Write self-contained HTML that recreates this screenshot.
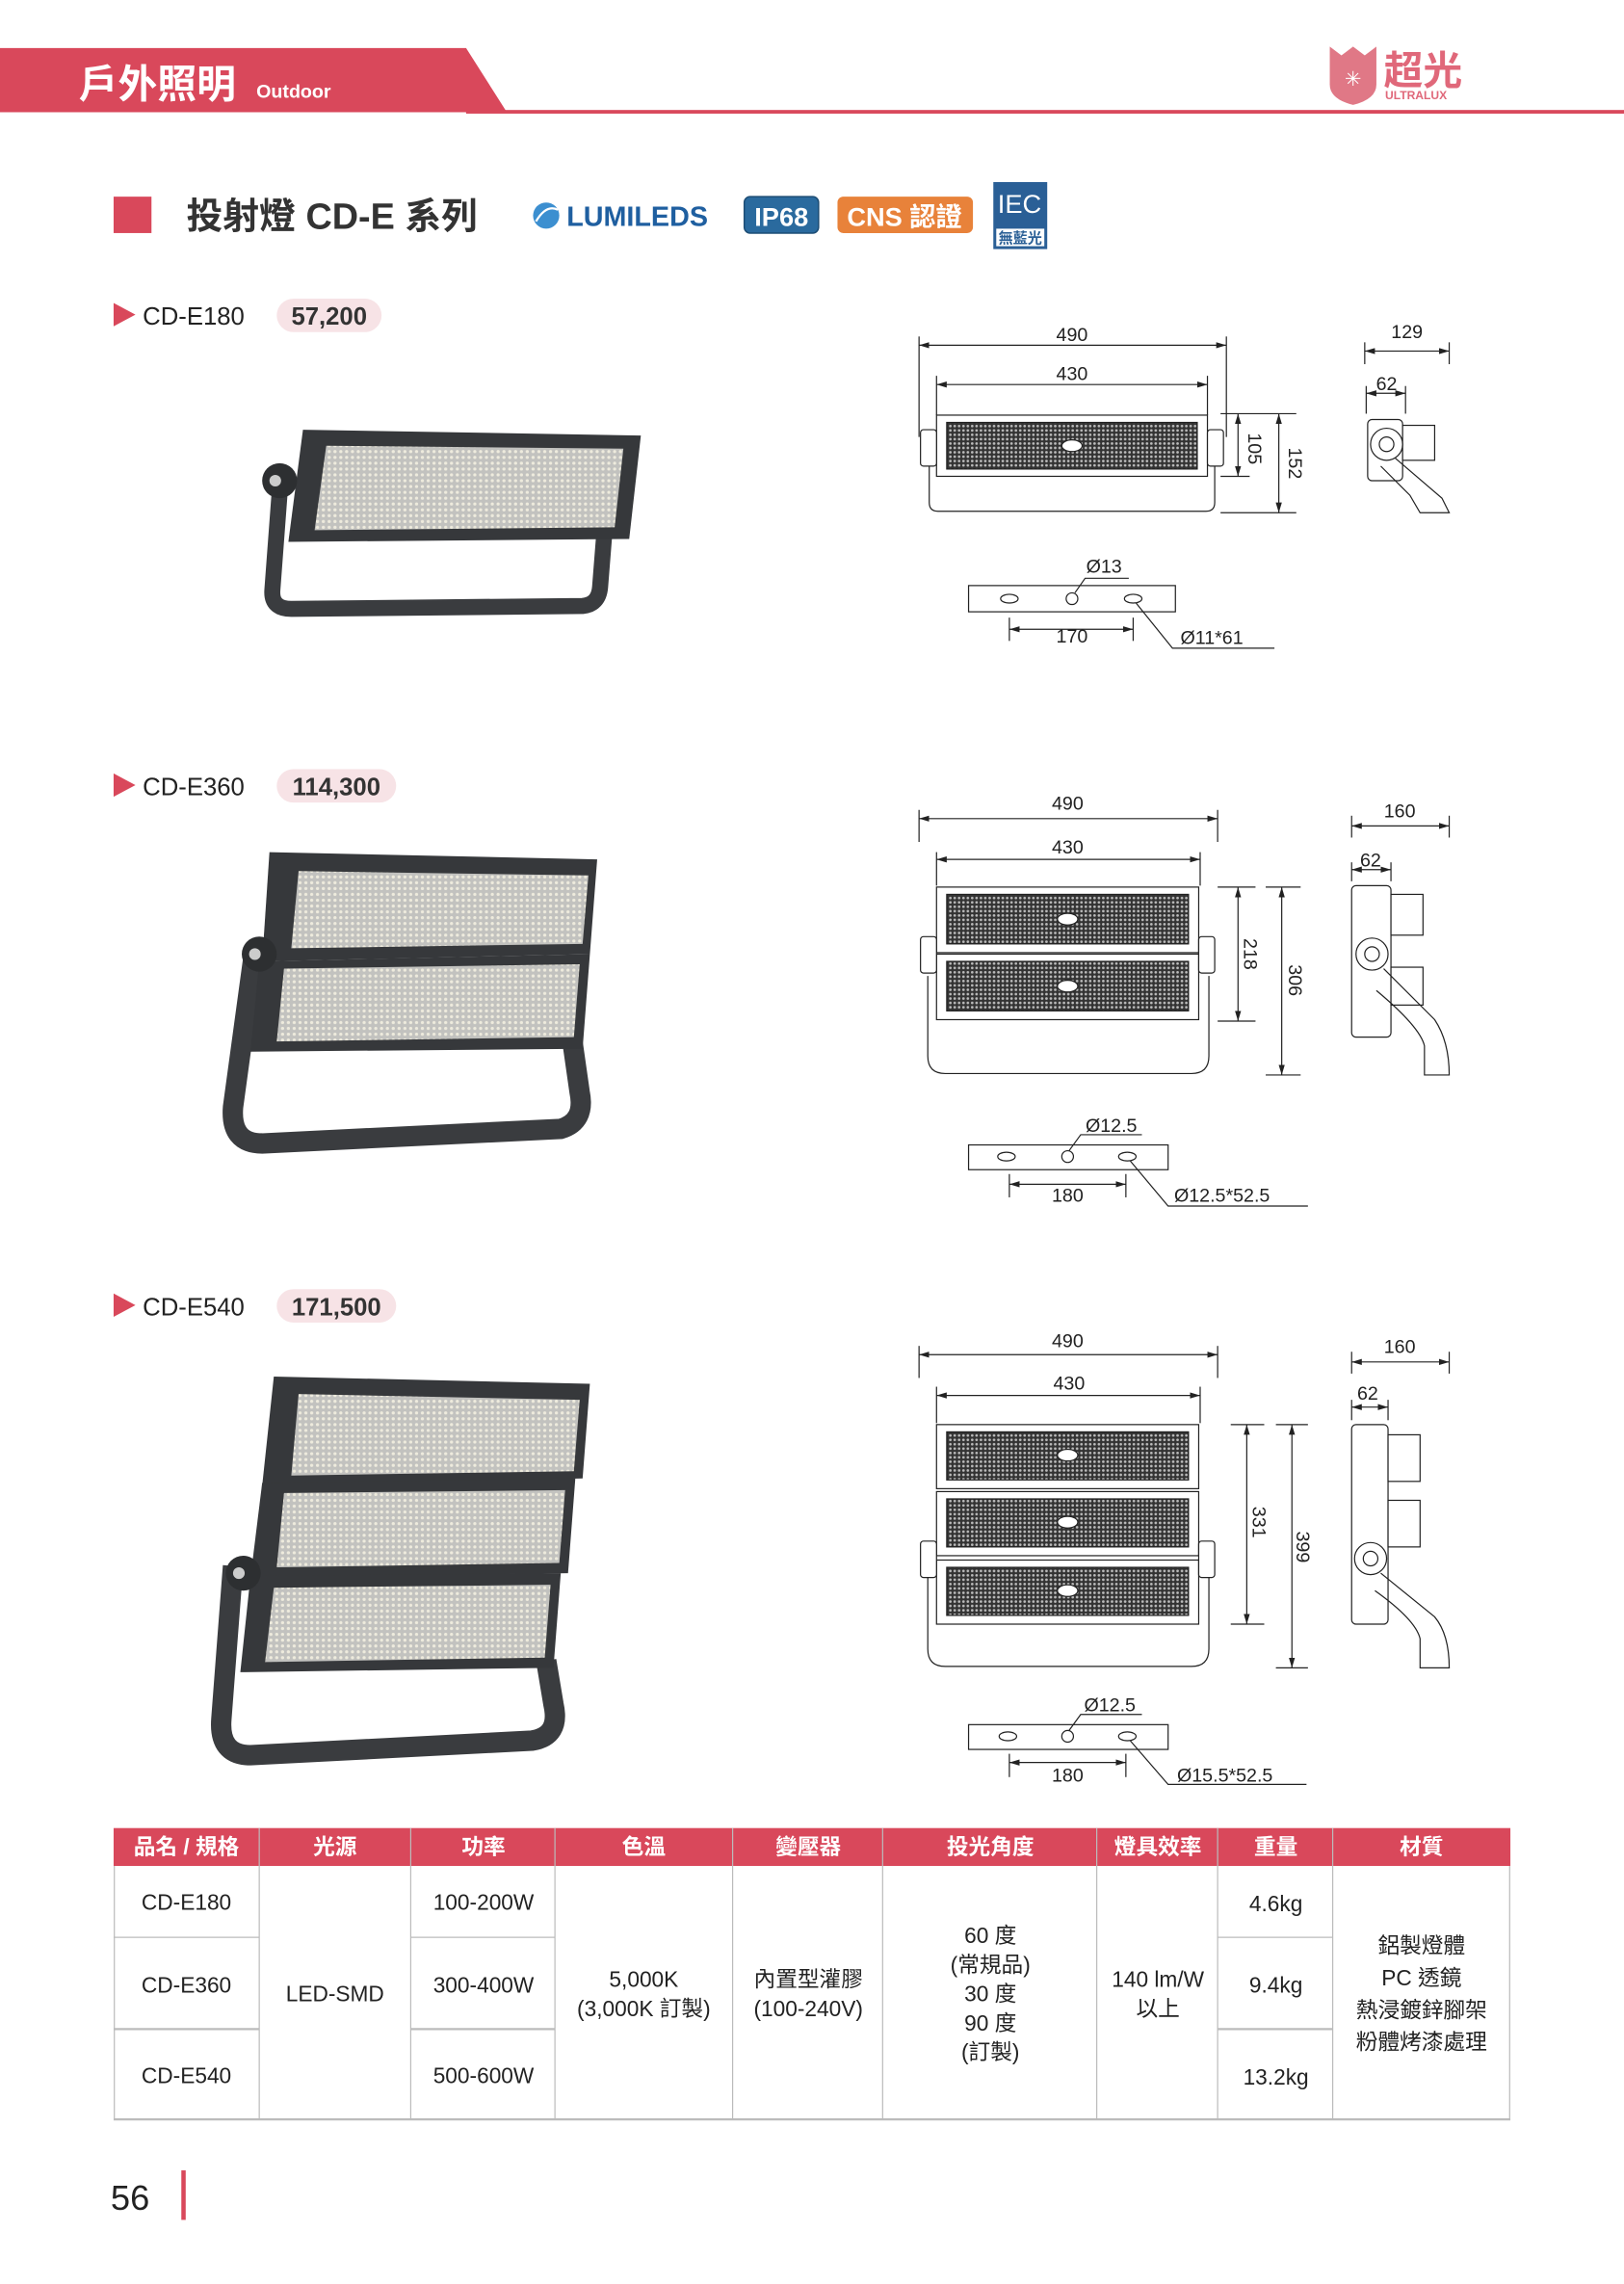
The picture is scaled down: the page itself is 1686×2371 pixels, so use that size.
<!DOCTYPE html>
<html><head><meta charset="utf-8"><style>
html,body{margin:0;padding:0;background:#fff;}
svg{display:block;}
text{font-family:"Liberation Sans","Noto Sans CJK TC",sans-serif;}
</style></head><body>
<svg width="1686" height="2371" viewBox="0 0 1115 1568" xmlns="http://www.w3.org/2000/svg">
<defs>
<marker id="ar" viewBox="0 0 10 6" refX="10" refY="3" markerWidth="7" markerHeight="4.2" markerUnits="userSpaceOnUse" orient="auto-start-reverse"><path d="M0,0 L10,3 L0,6 z" fill="#222"/></marker>
<pattern id="led" width="3" height="3" patternUnits="userSpaceOnUse"><rect width="3" height="3" fill="#333"/><circle cx="1.5" cy="1.5" r="0.9" fill="#bbb"/></pattern>
<pattern id="ph" width="4" height="4" patternUnits="userSpaceOnUse"><rect width="4" height="4" fill="#c2c2bf"/><circle cx="2" cy="2" r="1.1" fill="#eeebdd"/></pattern>
</defs>

<!-- header -->
<polygon points="0,33 320,33 348,77 0,77" fill="#d9485b"/>
<rect x="320" y="75.5" width="795" height="2.5" fill="#d9485b"/>
<text x="54" y="67" font-size="27" fill="#fff" font-weight="bold">戶外照明</text>
<text x="176" y="67" font-size="13" font-weight="bold" fill="#fff">Outdoor</text>
<path d="M913,32 L921,38 L929,32 L937,38 L945,32 L945,58 Q945,68 929,72 Q913,68 913,58 Z" fill="#e07886"/>
<text x="929" y="59" font-size="14" fill="#fff" text-anchor="middle">✳</text>
<text x="950" y="58" font-size="27" font-weight="bold" fill="#e0687a">超光</text>
<text x="951" y="68" font-size="8" font-weight="bold" fill="#e0687a">ULTRALUX</text>

<!-- title -->
<rect x="78" y="135" width="26" height="25" fill="#d9485b"/>
<text x="128" y="157" font-size="25" font-weight="bold" fill="#333">投射燈 CD-E 系列</text>
<circle cx="375" cy="148" r="9" fill="#3c8fd0"/>
<path d="M368,152 Q375,140 383,144" stroke="#fff" stroke-width="1.5" fill="none"/>
<text x="389" y="155" font-size="19" font-weight="bold" fill="#1f5fa0">LUMILEDS</text>
<rect x="511" y="135" width="51" height="25" rx="4" fill="#2a6a9e" stroke="#1d4d75"/>
<text x="536.5" y="155" font-size="18" font-weight="bold" fill="#fff" text-anchor="middle">IP68</text>
<rect x="575" y="135" width="93" height="25" rx="4" fill="#e8823a"/>
<text x="621" y="155" font-size="18" font-weight="bold" fill="#fff" text-anchor="middle">CNS 認證</text>
<rect x="682" y="125" width="37" height="46" fill="#2a5f96"/>
<text x="700" y="146" font-size="18" fill="#fff" text-anchor="middle" font-family="Liberation Serif">IEC</text>
<rect x="684" y="157" width="33" height="12" fill="#fff"/>
<text x="700.5" y="167" font-size="10" font-weight="bold" fill="#2a5f96" text-anchor="middle">無藍光</text>

<!-- labels -->
<g font-size="17" fill="#222">
<path d="M78,208 L93,216 L78,224 Z" fill="#d9485b"/><text x="98" y="223">CD-E180</text>
<rect x="190" y="205" width="72" height="23" rx="11.5" fill="#f7e3e6"/><text x="226" y="223" text-anchor="middle" font-weight="bold" fill="#333">57,200</text>
<path d="M78,531 L93,539 L78,547 Z" fill="#d9485b"/><text x="98" y="546">CD-E360</text>
<rect x="190" y="528" width="82" height="23" rx="11.5" fill="#f7e3e6"/><text x="231" y="546" text-anchor="middle" font-weight="bold" fill="#333">114,300</text>
<path d="M78,888 L93,896 L78,904 Z" fill="#d9485b"/><text x="98" y="903">CD-E540</text>
<rect x="190" y="885" width="82" height="23" rx="11.5" fill="#f7e3e6"/><text x="231" y="903" text-anchor="middle" font-weight="bold" fill="#333">171,500</text>
</g>

<!-- lamp photos -->
<g>
<!-- E180 -->
<path d="M192,338 L187,405 Q186,418 200,418 L400,416 Q411,415 412,403 L415,365" stroke="#3a3c3f" stroke-width="11" fill="none"/>
<polygon points="208,295 440,299 432,370 198,372" fill="#36383b"/>
<polygon points="224,306 428,308 422,362 216,364" fill="url(#ph)"/>
<circle cx="192" cy="330" r="12" fill="#2d2f31"/><circle cx="189" cy="330" r="4" fill="#ccc"/>
<!-- E360 -->
<path d="M175,650 L160,760 Q158,785 180,785 L385,775 Q402,770 398,750 L393,715" stroke="#3a3c3f" stroke-width="14" fill="none"/>
<polygon points="185,585 410,590 405,655 180,660" fill="#36383b"/>
<polygon points="205,598 404,601 400,648 200,651" fill="url(#ph)"/>
<polygon points="178,660 405,655 400,720 172,722" fill="#36383b"/>
<polygon points="195,665 398,662 394,712 190,715" fill="url(#ph)"/>
<circle cx="178" cy="655" r="12" fill="#2d2f31"/><circle cx="175" cy="655" r="4" fill="#ccc"/>
<!-- E540 -->
<path d="M160,1075 L152,1180 Q150,1205 172,1205 L365,1195 Q385,1192 380,1170 L375,1140" stroke="#3a3c3f" stroke-width="14" fill="none"/>
<polygon points="188,945 405,950 400,1015 180,1020" fill="#36383b"/>
<polygon points="205,957 398,961 394,1010 200,1013" fill="url(#ph)"/>
<polygon points="180,1018 395,1015 390,1080 172,1083" fill="#36383b"/>
<polygon points="195,1025 388,1023 384,1073 190,1076" fill="url(#ph)"/>
<polygon points="172,1082 385,1080 380,1145 165,1148" fill="#36383b"/>
<polygon points="188,1090 378,1088 374,1138 182,1141" fill="url(#ph)"/>
<circle cx="167" cy="1080" r="12" fill="#2d2f31"/><circle cx="164" cy="1080" r="4" fill="#ccc"/>
</g>

<!-- drawings -->
<g stroke="#222" stroke-width="0.8" fill="none">
<!-- E180 dims -->
<line x1="631" y1="231" x2="631" y2="300"/><line x1="842" y1="231" x2="842" y2="300"/>
<line x1="631" y1="237" x2="842" y2="237" marker-start="url(#ar)" marker-end="url(#ar)"/>
<line x1="643" y1="258" x2="643" y2="285"/><line x1="829" y1="258" x2="829" y2="285"/>
<line x1="643" y1="264" x2="829" y2="264" marker-start="url(#ar)" marker-end="url(#ar)"/>
<line x1="838" y1="284" x2="890" y2="284"/><line x1="838" y1="327" x2="858" y2="327"/><line x1="838" y1="352" x2="890" y2="352"/>
<line x1="850" y1="284" x2="850" y2="327" marker-start="url(#ar)" marker-end="url(#ar)"/>
<line x1="878" y1="284" x2="878" y2="352" marker-start="url(#ar)" marker-end="url(#ar)"/>
<path d="M638,300 V345 Q638,351 644,351 H828 Q834,351 834,345 V300"/>
<rect x="643" y="285" width="186" height="42" fill="#fff"/>
<rect x="650" y="290" width="172" height="32" fill="url(#led)"/>
<ellipse cx="736" cy="306" rx="7" ry="4" fill="#fff"/>
<rect x="632" y="295" width="11" height="25" rx="2" fill="#fff"/><rect x="829" y="295" width="11" height="25" rx="2" fill="#fff"/>
<line x1="937" y1="235" x2="937" y2="250"/><line x1="995" y1="235" x2="995" y2="250"/>
<line x1="937" y1="241" x2="995" y2="241" marker-start="url(#ar)" marker-end="url(#ar)"/>
<line x1="938" y1="265" x2="938" y2="284"/><line x1="965" y1="265" x2="965" y2="284"/>
<line x1="938" y1="270" x2="965" y2="270" marker-start="url(#ar)" marker-end="url(#ar)"/>
<rect x="939" y="288" width="24" height="42" rx="3" fill="#fff"/>
<rect x="963" y="292" width="22" height="24" fill="#fff"/>
<path d="M955,312 L990,342 L995,352 L975,352 L968,340 L948,320"/>
<circle cx="952" cy="305" r="11" fill="#fff"/><circle cx="952" cy="305" r="5"/>
<rect x="665" y="402" width="142" height="18" fill="#fff"/>
<ellipse cx="693" cy="411" rx="6" ry="3"/><circle cx="736" cy="411" r="4"/><ellipse cx="778" cy="411" rx="6" ry="3"/>
<path d="M738,407 L745,397 H775"/><path d="M780,414 L805,445 H875"/>
<line x1="693" y1="424" x2="693" y2="440"/><line x1="778" y1="424" x2="778" y2="440"/>
<line x1="693" y1="432" x2="778" y2="432" marker-start="url(#ar)" marker-end="url(#ar)"/>

<!-- E360 dims -->
<line x1="631" y1="556" x2="631" y2="578"/><line x1="836" y1="556" x2="836" y2="578"/>
<line x1="631" y1="562" x2="836" y2="562" marker-start="url(#ar)" marker-end="url(#ar)"/>
<line x1="643" y1="585" x2="643" y2="608"/><line x1="824" y1="585" x2="824" y2="608"/>
<line x1="643" y1="590" x2="824" y2="590" marker-start="url(#ar)" marker-end="url(#ar)"/>
<line x1="836" y1="609" x2="862" y2="609"/><line x1="836" y1="701" x2="862" y2="701"/>
<line x1="869" y1="609" x2="893" y2="609"/><line x1="869" y1="738" x2="893" y2="738"/>
<line x1="850" y1="609" x2="850" y2="701" marker-start="url(#ar)" marker-end="url(#ar)"/>
<line x1="880" y1="609" x2="880" y2="738" marker-start="url(#ar)" marker-end="url(#ar)"/>
<path d="M637,670 V725 Q637,737 649,737 H818 Q830,737 830,725 V670"/>
<rect x="643" y="609" width="180" height="45" fill="#fff"/><rect x="650" y="614" width="166" height="34" fill="url(#led)"/>
<rect x="643" y="655" width="180" height="45" fill="#fff"/><rect x="650" y="660" width="166" height="34" fill="url(#led)"/>
<ellipse cx="733" cy="631" rx="7" ry="4" fill="#fff"/><ellipse cx="733" cy="677" rx="7" ry="4" fill="#fff"/>
<rect x="632" y="643" width="11" height="25" rx="2" fill="#fff"/><rect x="823" y="643" width="11" height="25" rx="2" fill="#fff"/>
<line x1="928" y1="560" x2="928" y2="575"/><line x1="995" y1="560" x2="995" y2="575"/>
<line x1="928" y1="567" x2="995" y2="567" marker-start="url(#ar)" marker-end="url(#ar)"/>
<line x1="928" y1="592" x2="928" y2="605"/><line x1="955" y1="592" x2="955" y2="605"/>
<line x1="928" y1="597" x2="955" y2="597" marker-start="url(#ar)" marker-end="url(#ar)"/>
<rect x="928" y="608" width="27" height="104" rx="3" fill="#fff"/>
<rect x="955" y="614" width="22" height="28" fill="#fff"/><rect x="955" y="664" width="22" height="26" fill="#fff"/>
<path d="M950,665 L985,700 Q995,715 995,738 H978 V718 Q975,705 945,680"/>
<circle cx="942" cy="655" r="11" fill="#fff"/><circle cx="942" cy="655" r="5"/>
<rect x="665" y="786" width="137" height="17" fill="#fff"/>
<ellipse cx="691" cy="794" rx="6" ry="3"/><circle cx="733" cy="794" r="4"/><ellipse cx="774" cy="794" rx="6" ry="3"/>
<path d="M734,790 L742,779 H784"/><path d="M776,797 L802,828 H898"/>
<line x1="693" y1="806" x2="693" y2="822"/><line x1="773" y1="806" x2="773" y2="822"/>
<line x1="693" y1="813" x2="773" y2="813" marker-start="url(#ar)" marker-end="url(#ar)"/>

<!-- E540 dims -->
<line x1="631" y1="924" x2="631" y2="946"/><line x1="836" y1="924" x2="836" y2="946"/>
<line x1="631" y1="930" x2="836" y2="930" marker-start="url(#ar)" marker-end="url(#ar)"/>
<line x1="643" y1="952" x2="643" y2="977"/><line x1="824" y1="952" x2="824" y2="977"/>
<line x1="643" y1="958" x2="824" y2="958" marker-start="url(#ar)" marker-end="url(#ar)"/>
<line x1="845" y1="978" x2="868" y2="978"/><line x1="845" y1="1115" x2="868" y2="1115"/>
<line x1="876" y1="978" x2="898" y2="978"/><line x1="876" y1="1145" x2="898" y2="1145"/>
<line x1="856" y1="978" x2="856" y2="1115" marker-start="url(#ar)" marker-end="url(#ar)"/>
<line x1="887" y1="978" x2="887" y2="1145" marker-start="url(#ar)" marker-end="url(#ar)"/>
<path d="M637,1080 V1132 Q637,1144 649,1144 H818 Q830,1144 830,1132 V1080"/>
<rect x="643" y="978" width="180" height="44" fill="#fff"/><rect x="650" y="983" width="166" height="33" fill="url(#led)"/>
<rect x="643" y="1024" width="180" height="44" fill="#fff"/><rect x="650" y="1029" width="166" height="33" fill="url(#led)"/>
<rect x="643" y="1071" width="180" height="44" fill="#fff"/><rect x="650" y="1076" width="166" height="33" fill="url(#led)"/>
<ellipse cx="733" cy="999" rx="7" ry="4" fill="#fff"/><ellipse cx="733" cy="1045" rx="7" ry="4" fill="#fff"/><ellipse cx="733" cy="1092" rx="7" ry="4" fill="#fff"/>
<rect x="632" y="1058" width="11" height="25" rx="2" fill="#fff"/><rect x="823" y="1058" width="11" height="25" rx="2" fill="#fff"/>
<line x1="928" y1="928" x2="928" y2="943"/><line x1="995" y1="928" x2="995" y2="943"/>
<line x1="928" y1="935" x2="995" y2="935" marker-start="url(#ar)" marker-end="url(#ar)"/>
<line x1="928" y1="961" x2="928" y2="975"/><line x1="953" y1="961" x2="953" y2="975"/>
<line x1="928" y1="966" x2="953" y2="966" marker-start="url(#ar)" marker-end="url(#ar)"/>
<rect x="928" y="978" width="25" height="137" rx="3" fill="#fff"/>
<rect x="953" y="985" width="22" height="32" fill="#fff"/><rect x="953" y="1030" width="22" height="32" fill="#fff"/>
<path d="M948,1080 L985,1110 Q995,1122 995,1145 H975 V1125 Q972,1112 944,1092"/>
<circle cx="941" cy="1070" r="11" fill="#fff"/><circle cx="941" cy="1070" r="5"/>
<rect x="665" y="1184" width="137" height="17" fill="#fff"/>
<ellipse cx="692" cy="1192" rx="6" ry="3"/><circle cx="733" cy="1192" r="4"/><ellipse cx="774" cy="1192" rx="6" ry="3"/>
<path d="M734,1188 L742,1177 H784"/><path d="M776,1195 L802,1225 H897"/>
<line x1="693" y1="1204" x2="693" y2="1220"/><line x1="773" y1="1204" x2="773" y2="1220"/>
<line x1="693" y1="1210" x2="773" y2="1210" marker-start="url(#ar)" marker-end="url(#ar)"/>
</g>

<g font-size="13" fill="#222" text-anchor="middle">
<text x="736" y="234">490</text><text x="736" y="261">430</text>
<text x="966" y="232">129</text><text x="952" y="268">62</text>
<text x="758" y="393">Ø13</text><text x="736" y="441">170</text>
<text x="832" y="442">Ø11*61</text>
<text transform="translate(857,308) rotate(90)">105</text>
<text transform="translate(885,318) rotate(90)">152</text>

<text x="733" y="556">490</text><text x="733" y="586">430</text>
<text x="961" y="561">160</text><text x="941" y="595">62</text>
<text x="763" y="777">Ø12.5</text><text x="733" y="825">180</text>
<text x="839" y="825">Ø12.5*52.5</text>
<text transform="translate(854,655) rotate(90)">218</text>
<text transform="translate(885,673) rotate(90)">306</text>

<text x="733" y="925">490</text><text x="734" y="954">430</text>
<text x="961" y="929">160</text><text x="939" y="961">62</text>
<text x="762" y="1175">Ø12.5</text><text x="733" y="1223">180</text>
<text x="841" y="1223">Ø15.5*52.5</text>
<text transform="translate(860,1045) rotate(90)">331</text>
<text transform="translate(890,1062) rotate(90)">399</text>
</g>

<!-- table -->
<rect x="78" y="1255" width="959" height="26" fill="#d9485b"/>
<g stroke="#bbb" stroke-width="0.8" fill="none">
<line x1="78.5" y1="1281" x2="78.5" y2="1455"/><line x1="178" y1="1255" x2="178" y2="1455"/>
<line x1="282" y1="1255" x2="282" y2="1455"/><line x1="381" y1="1255" x2="381" y2="1455"/>
<line x1="503" y1="1255" x2="503" y2="1455"/><line x1="606" y1="1255" x2="606" y2="1455"/>
<line x1="753" y1="1255" x2="753" y2="1455"/><line x1="836" y1="1255" x2="836" y2="1455"/>
<line x1="915" y1="1255" x2="915" y2="1455"/><line x1="1036.5" y1="1281" x2="1036.5" y2="1455"/>
<line x1="78" y1="1330" x2="178" y2="1330"/><line x1="282" y1="1330" x2="381" y2="1330"/><line x1="836" y1="1330" x2="915" y2="1330"/>
<line x1="78" y1="1393" x2="178" y2="1393" stroke-width="1.5"/><line x1="282" y1="1393" x2="381" y2="1393" stroke-width="1.5"/><line x1="836" y1="1393" x2="915" y2="1393" stroke-width="1.5"/>
<line x1="78" y1="1455" x2="1037" y2="1455" stroke-width="1.5"/>
</g>
<g font-size="15" fill="#fff" text-anchor="middle" font-weight="bold">
<text x="128" y="1273">品名 / 規格</text><text x="230" y="1273">光源</text><text x="332" y="1273">功率</text>
<text x="442" y="1273">色溫</text><text x="555" y="1273">變壓器</text><text x="680" y="1273">投光角度</text>
<text x="795" y="1273">燈具效率</text><text x="876" y="1273">重量</text><text x="976" y="1273">材質</text>
</g>
<g font-size="15" fill="#222" text-anchor="middle">
<text x="128" y="1311">CD-E180</text><text x="128" y="1368">CD-E360</text><text x="128" y="1430">CD-E540</text>
<text x="230" y="1374">LED-SMD</text>
<text x="332" y="1311">100-200W</text><text x="332" y="1368">300-400W</text><text x="332" y="1430">500-600W</text>
<text x="442" y="1364">5,000K</text><text x="442" y="1384">(3,000K 訂製)</text>
<text x="555" y="1364">內置型灌膠</text><text x="555" y="1384">(100-240V)</text>
<text x="680" y="1334">60 度</text><text x="680" y="1354">(常規品)</text><text x="680" y="1374">30 度</text><text x="680" y="1394">90 度</text><text x="680" y="1414">(訂製)</text>
<text x="795" y="1364">140 lm/W</text><text x="795" y="1384">以上</text>
<text x="876" y="1312">4.6kg</text><text x="876" y="1368">9.4kg</text><text x="876" y="1431">13.2kg</text>
<text x="976" y="1341">鋁製燈體</text><text x="976" y="1363">PC 透鏡</text><text x="976" y="1385">熱浸鍍鋅腳架</text><text x="976" y="1407">粉體烤漆處理</text>
</g>

<!-- page number -->
<text x="76" y="1517" font-size="24" fill="#222">56</text>
<rect x="124.5" y="1490" width="3" height="34" fill="#d9485b"/>
</svg>
</body></html>
